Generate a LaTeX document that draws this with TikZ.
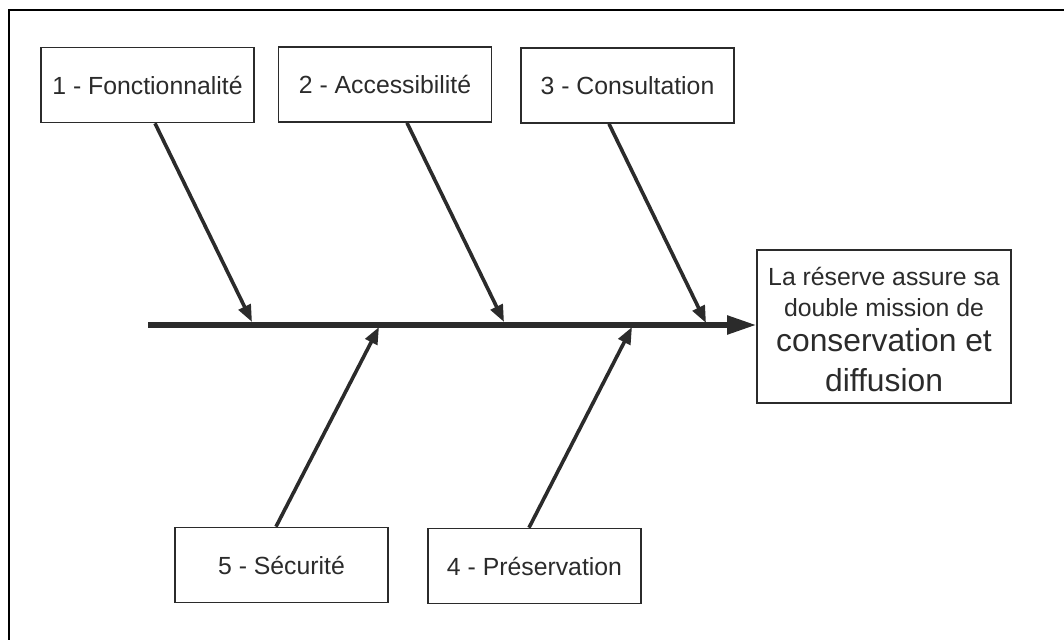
\documentclass[tikz,border=0pt]{standalone}
\usepackage{fontspec}
\setmainfont{Liberation Sans}
\usetikzlibrary{arrows.meta}
\definecolor{ink}{HTML}{2B2B2B}
\newcommand{\lnstrut}[1]{\rule{0pt}{#1}}
\tikzset{
  cause/.style={draw=ink, line width=0.85pt, minimum width=106.5pt, minimum height=37.5pt,
    inner sep=0pt, font=\fontsize{12.4}{15}\selectfont, text=ink},
  effect/.style={draw=ink, line width=0.85pt, minimum width=127pt, minimum height=76.5pt,
    inner sep=0pt, text=ink},
  bone/.style={draw=ink, line width=1.8pt, -{Triangle[length=8.5pt,width=6.5pt]}},
  spine/.style={draw=ink, line width=2.6pt, -{Triangle[length=14.5pt,width=9pt]}},
  frame/.style={draw=black, line width=1.1pt}
}
\begin{document}
\begin{tikzpicture}[x=0.5pt,y=-0.5pt]
\useasboundingbox (0,0) rectangle (1064,640);
\draw[frame] (9,640) -- (9,10) -- (1064,10);

\node[cause] (b1) at (147.5,85) {1 - Fonctionnalité};
\node[cause] (b2) at (385,84.5) {2 - Accessibilité};
\node[cause] (b3) at (627.5,85.5) {3 - Consultation};
\node[cause] (b5) at (281.5,565) {5 - Sécurité};
\node[cause] (b4) at (534.5,566) {4 - Préservation};

\node[effect] (eff) at (884,326.5) {%
  \renewcommand{\arraystretch}{0}%
  \begin{tabular}{@{}c@{}}
  \fontsize{12.4}{15}\selectfont\lnstrut{12pt}La réserve assure sa\\
  \fontsize{12.4}{15}\selectfont\lnstrut{15.5pt}double mission de\\
  \fontsize{15.9}{19}\selectfont\lnstrut{17.5pt}conservation et\\
  \fontsize{15.9}{19}\selectfont\lnstrut{19.5pt}diffusion
  \end{tabular}};

\coordinate (tail) at (148,325);
\coordinate (t1) at (252,322);
\coordinate (t2) at (504,322);
\coordinate (t3) at (706,323);
\coordinate (t5) at (379,327);
\coordinate (t4) at (632,327);

\draw[spine] (tail) -- (eff.west |- tail);
\draw[bone] ([xshift=3.75pt]b1.south) -- (t1);
\draw[bone] ([xshift=11pt]b2.south) -- (t2);
\draw[bone] ([xshift=-9.25pt]b3.south) -- (t3);
\draw[bone] ([xshift=-2.75pt]b5.north) -- (t5);
\draw[bone] ([xshift=-2.75pt]b4.north) -- (t4);
\end{tikzpicture}
\end{document}
